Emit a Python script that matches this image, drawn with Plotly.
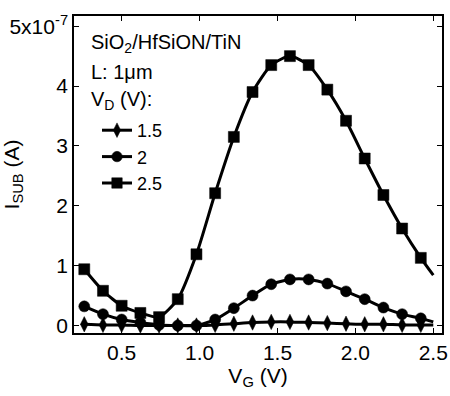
import plotly.graph_objects as go

# Gate voltage (V): marker points plus the line end at 2.5 V
vg = [0.26, 0.38, 0.50, 0.62, 0.74, 0.86, 0.98, 1.10, 1.22, 1.34, 1.46,
      1.58, 1.70, 1.82, 1.94, 2.06, 2.18, 2.30, 2.42, 2.50]

# Substrate current (x1e-7 A) for each drain voltage
isub_15 = [0.02, 0.01, 0.01, 0.00, 0.00, 0.00, 0.00, 0.01, 0.03, 0.05, 0.06,
           0.06, 0.05, 0.04, 0.03, 0.02, 0.02, 0.01, 0.01, 0.01]
isub_20 = [0.32, 0.19, 0.10, 0.05, 0.01, 0.00, 0.00, 0.10, 0.29, 0.50, 0.69,
           0.77, 0.77, 0.70, 0.57, 0.44, 0.30, 0.19, 0.12, 0.06]
isub_25 = [0.94, 0.58, 0.33, 0.21, 0.14, 0.44, 1.19, 2.21, 3.15, 3.90, 4.35,
           4.50, 4.35, 3.94, 3.42, 2.79, 2.18, 1.62, 1.13, 0.84]

series_names = ["1.5", "2", "2.5"]
y_tickvals = [0, 1, 2, 3, 4, 5]
y_ticktext = ["0", "1", "2", "3", "4", "5x10<sup>-7</sup>"]
x_tickvals = [0.5, 1.0, 1.5, 2.0, 2.5]
x_ticktext = ["0.5", "1.0", "1.5", "2.0", "2.5"]

FONT = "Liberation Sans, Arial, sans-serif"
W, H = 450, 396
L, R, T, B = 74, 8, 16, 63
pw, ph = W - L - R, H - T - B

def px2paper(x, y):
    return (x - L) / pw, (H - B - y) / ph

fig = go.Figure()
symbols = ["diamond-tall", "circle", "square"]
sizes = [11, 11, 11]
for name, ys, sym, sz in zip(series_names, [isub_15, isub_20, isub_25], symbols, sizes):
    msize = [sz] * (len(vg) - 1) + [0]
    fig.add_trace(go.Scatter(
        x=vg, y=ys, name=name, mode="lines+markers",
        line=dict(color="black", width=3, shape="spline", smoothing=0.6),
        marker=dict(symbol=sym, size=msize, color="black", opacity=1,
                    line=dict(width=0.5, color="black")),
    ))

axis_common = dict(
    showline=True, linecolor="black", linewidth=1.5, mirror="ticks",
    ticks="inside", ticklen=5, tickwidth=1.2, tickcolor="black",
    showgrid=False, zeroline=False, automargin=False,
    tickfont=dict(family=FONT, size=21, color="black"),
)

fig.update_xaxes(range=[0.194, 2.556], tickvals=x_tickvals, ticktext=x_ticktext,
                 title=dict(text="V<sub>G</sub> (V)", font=dict(family=FONT, size=21, color="black"),
                            standoff=5),
                 **axis_common)
fig.update_yaxes(range=[-0.125, 5.17], tickvals=y_tickvals, ticktext=y_ticktext,
                 title=dict(text="I<sub>SUB</sub> (A)", font=dict(family=FONT, size=21, color="black"),
                            standoff=4),
                 **axis_common)

header = ["SiO<sub>2</sub>/HfSiON/TiN", "L: 1\u03bcm", "V<sub>D</sub> (V):"]
header_y = [43, 72, 100]
annotations = []
for txt, yy in zip(header, header_y):
    xp, yp = px2paper(89, yy)
    annotations.append(dict(text=txt, x=xp, y=yp, xref="paper", yref="paper",
                            xanchor="left", yanchor="middle", showarrow=False,
                            font=dict(family=FONT, size=20, color="black")))

lx, ly = px2paper(97, 112)
fig.update_layout(
    width=W, height=H,
    margin=dict(l=L, r=R, t=T, b=B, autoexpand=False),
    paper_bgcolor="white", plot_bgcolor="white",
    showlegend=True,
    legend=dict(x=lx, y=ly, xanchor="left", yanchor="top",
                bgcolor="rgba(0,0,0,0)", font=dict(family=FONT, size=18, color="black"),
                tracegroupgap=0),
    annotations=annotations,
)

fig.write_html("out.html")
